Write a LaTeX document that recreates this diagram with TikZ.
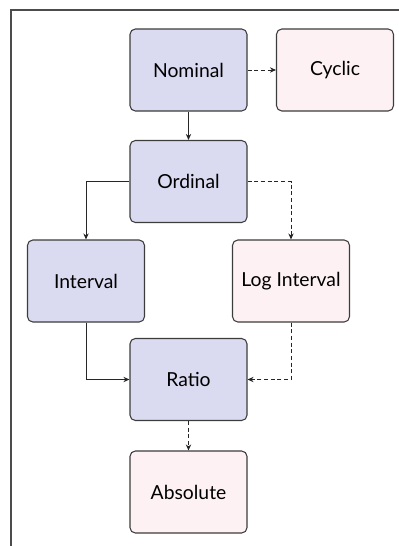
\documentclass[tikz,border=0pt]{standalone}
\usepackage{fontspec}
\setmainfont{Lato}
\usetikzlibrary{arrows.meta}

\definecolor{scalefill}{RGB}{218,218,240}
\definecolor{extfill}{RGB}{253,241,243}
\definecolor{boxline}{RGB}{60,60,60}

\tikzset{
  scalebox/.style={draw=boxline, fill=scalefill, rounded corners=4pt, line width=0.8pt,
    minimum width=87.75pt, minimum height=61.5pt, inner sep=0.75pt, font=\fontsize{14.5}{17}\selectfont},
  extbox/.style={scalebox, fill=extfill},
  solidarr/.style={draw=black!85, line width=0.7pt, -{Stealth[length=4.5pt,width=4pt]}},
  dasharr/.style={solidarr, densely dashed}
}

\begin{document}
\begin{tikzpicture}[x=0.75pt,y=0.75pt,yscale=-1,xscale=1]
\useasboundingbox (0,0) rectangle (399,546);

%Frame
\draw [color=black!70, line width=0.8pt] (399,10) -- (11,10) -- (11,546) ;

% Text Node
\node [scalebox] (nominal) at (188.5,70) {Nominal};
% Text Node
\node [extbox] (cyclic) at (335,70) {Cyclic};
% Text Node
\node [scalebox] (ordinal) at (188.5,181.5) {Ordinal};
% Text Node
\node [scalebox] (interval) at (86,281) {Interval};
% Text Node
\node [extbox] (loginterval) at (291,281) {Log Interval};
% Text Node
\node [scalebox] (ratio) at (188.5,379.5) {Ratio};
% Text Node
\node [extbox] (absolute) at (188.5,492) {Absolute};

%Connectors
\draw [dasharr] (nominal) -- (cyclic) ;
\draw [solidarr] (nominal) -- (ordinal) ;
\draw [solidarr] (ordinal.west) -| (interval.north) ;
\draw [dasharr] (ordinal.east) -| (loginterval.north) ;
\draw [solidarr] (interval.south) |- (ratio.west) ;
\draw [dasharr] (loginterval.south) |- (ratio.east) ;
\draw [dasharr] (ratio) -- (absolute) ;

\end{tikzpicture}
\end{document}
